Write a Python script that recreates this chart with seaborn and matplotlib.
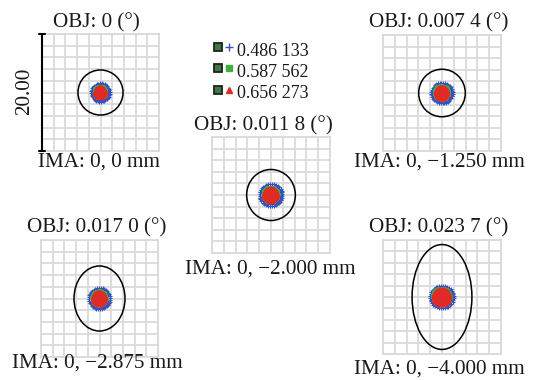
import numpy as np
import pandas as pd
import matplotlib
matplotlib.use("Agg")
import matplotlib.pyplot as plt
from matplotlib.patches import Ellipse
import seaborn as sns

# ---------------- data ----------------
field_titles = ["OBJ: 0 (°)", "OBJ: 0.007 4 (°)", "OBJ: 0.011 8 (°)",
                "OBJ: 0.017 0 (°)", "OBJ: 0.023 7 (°)"]
image_labels = ["IMA: 0, 0 mm", "IMA: 0, \u22121.250 mm", "IMA: 0, \u22122.000 mm",
                "IMA: 0, \u22122.875 mm", "IMA: 0, \u22124.000 mm"]
wavelengths = ["0.486 133", "0.587 562", "0.656 273"]
# spot radii (um) per field for each wavelength
spot_r_blue = [1.55, 1.80, 1.95, 1.80, 2.00]
spot_r_green = [1.05, 1.25, 1.35, 1.30, 1.55]
spot_r_red = [0.95, 1.10, 1.20, 1.15, 1.45]
# reference ellipse semi-axes (um)
ell_a = [3.85, 3.95, 4.13, 4.36, 5.07]
ell_b = [3.85, 4.10, 4.40, 5.56, 9.20]
scale_bar = 20.00
half_range = 10.0

colors = {"0.486 133": "#3553c0", "0.587 562": "#3fae3f", "0.656 273": "#e02a26"}
markers = {"0.486 133": "+", "0.587 562": "s", "0.656 273": "^"}

W, H = 534, 380
sns.set_theme(style="white")
plt.rcParams["font.family"] = ["Liberation Serif", "DejaVu Serif"]

fig = plt.figure(figsize=(W / 100, H / 100), dpi=100)


def rect(x0, y0, w, h):
    return [x0 / W, 1 - (y0 + h) / H, w / W, h / H]


def fxy(x, y):
    return x / W, 1 - y / H


panel_rects = [rect(42, 34, 117, 117), rect(383, 35, 118, 116), rect(212, 137, 118, 116),
               rect(41, 240, 117, 117), rect(383, 240, 118, 114)]
title_pos = [(96, 27), (439, 27), (263, 130), (97, 232), (439, 232)]
ima_pos = [(99, 167), (439.5, 167), (270, 274), (97, 368), (439, 374)]


def spot_points(r, nrings=6):
    xs, ys = [0.0], [0.0]
    for i in range(1, nrings + 1):
        n = 6 * i
        ang = np.arange(n) * 2 * np.pi / n + 0.3 * i
        xs.extend(r * i / nrings * np.cos(ang))
        ys.extend(r * i / nrings * np.sin(ang))
    return np.array(xs), np.array(ys)


grid_ticks = np.arange(-half_range, half_range + 0.1, 2)
for k in range(5):
    ax = fig.add_axes(panel_rects[k])
    ax.set_xlim(-half_range, half_range)
    ax.set_ylim(-half_range, half_range)
    ax.set_xticks(grid_ticks)
    ax.set_yticks(grid_ticks)
    ax.tick_params(length=0, labelbottom=False, labelleft=False)
    ax.grid(True, color="#dadada", lw=1.3)
    for sp in ax.spines.values():
        sp.set_color("#dadada")
        sp.set_linewidth(1.3)
    for wl, rr, s, lw in [(wavelengths[0], spot_r_blue[k], 7, 0.8),
                          (wavelengths[1], spot_r_green[k], 5, 0),
                          (wavelengths[2], spot_r_red[k], 9, 0)]:
        px, py = spot_points(rr)
        df = pd.DataFrame({"x": px, "y": py})
        kw = dict(linewidth=lw)
        if markers[wl] != "+":
            kw["edgecolor"] = "none"
        sns.scatterplot(data=df, x="x", y="y", ax=ax, marker=markers[wl],
                        color=colors[wl], s=s, legend=False, zorder=3, **kw)
    ax.add_patch(Ellipse((0, 0), 2 * ell_a[k], 2 * ell_b[k], fill=False,
                         edgecolor="black", lw=1.1, zorder=4))
    ax.set_xlabel("")
    ax.set_ylabel("")
    fig.text(*fxy(*title_pos[k]), field_titles[k], ha="center", va="baseline",
             fontsize=15.2, color="#1a1a1a")
    fig.text(*fxy(*ima_pos[k]), image_labels[k], ha="center", va="baseline",
             fontsize=15.2, color="#1a1a1a")
    if k == 0:
        ax.plot([-half_range, -half_range], [-half_range, half_range], color="black",
                lw=1.5, clip_on=False, zorder=5)
        for yy in (-half_range, half_range):
            ax.plot([-half_range - 0.5, -half_range + 0.5], [yy, yy], color="black",
                    lw=1.5, clip_on=False, zorder=5)
        fig.text(*fxy(24.5, 91.5), f"{scale_bar:.2f}", rotation=90, ha="center",
                 va="center", fontsize=15.2, color="#1a1a1a")

# legend
leg_icon_y = [46.5, 68, 89.5]
leg_text_y = [56, 77, 98]
for i, wl in enumerate(wavelengths):
    fig.lines.append(plt.Line2D([218 / W], [1 - leg_icon_y[i] / H], marker="s", markersize=5.5,
                                markerfacecolor="#3c7a44", markeredgecolor="#202020",
                                markeredgewidth=1.3, transform=fig.transFigure))
    mk = markers[wl]
    fig.lines.append(plt.Line2D([229 / W], [1 - leg_icon_y[i] / H], marker=mk,
                                markersize=5 if mk != "+" else 5.5,
                                markerfacecolor=colors[wl], markeredgecolor=colors[wl],
                                markeredgewidth=1.0, transform=fig.transFigure))
    fig.text(237 / W, 1 - leg_text_y[i] / H, wl, ha="left", va="baseline",
             fontsize=13.0, color="#1a1a1a")

fig.savefig("out.png", dpi=100)
